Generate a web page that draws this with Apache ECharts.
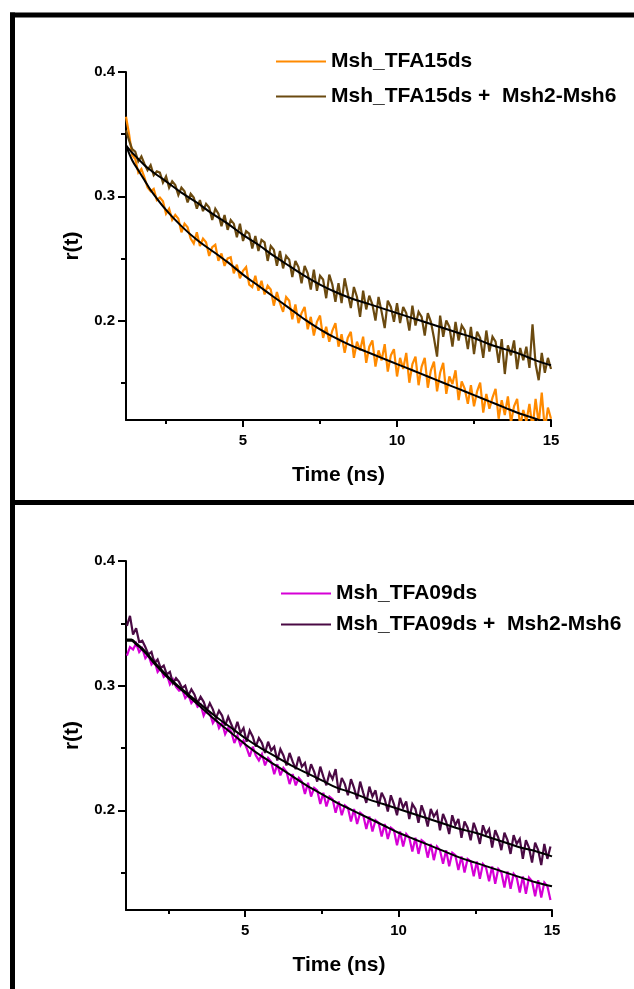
<!DOCTYPE html>
<html>
<head>
<meta charset="utf-8">
<script src="https://cdn.jsdelivr.net/npm/echarts@6/dist/echarts.min.js"></script>
<style>
html,body{margin:0;padding:0;background:#fff;}
#chart{width:634px;height:989px;}
</style>
</head>
<body>
<div id="chart"></div>
<script>
// ---------- DATA ----------
// Top panel: time axis starts 1.2 ns, 0.1 ns sampling
const TOP_T0 = 1.2;
const TOP_DT = 0.1;
const TOP_NAMES = ['Msh_TFA15ds', 'Msh_TFA15ds +  Msh2-Msh6'];
const TFA15 = [
0.364,0.350,0.333,0.330,0.319,0.322,0.315,0.307,0.304,0.306,
0.297,0.299,0.296,0.286,0.290,0.281,0.285,0.282,0.271,0.278,
0.275,0.266,0.262,0.271,0.260,0.266,0.263,0.252,0.259,0.261,
0.248,0.254,0.244,0.250,0.251,0.238,0.245,0.234,0.240,0.243,
0.229,0.227,0.236,0.224,0.232,0.221,0.228,0.225,0.212,0.223,
0.214,0.207,0.219,0.216,0.201,0.213,0.198,0.206,0.211,0.193,
0.203,0.188,0.199,0.204,0.186,0.195,0.183,0.192,0.198,0.179,
0.189,0.174,0.186,0.191,0.170,0.183,0.176,0.187,0.166,0.179,
0.184,0.163,0.176,0.168,0.181,0.159,0.172,0.177,0.155,0.170,
0.161,0.174,0.150,0.165,0.171,0.148,0.163,0.170,0.146,0.160,
0.167,0.143,0.158,0.166,0.141,0.155,0.149,0.160,0.136,0.151,
0.145,0.133,0.148,0.131,0.143,0.150,0.126,0.141,0.129,0.138,
0.145,0.121,0.136,0.124,0.139,0.118,0.131,0.137,0.115,0.128,
0.119,0.133,0.113,0.137,0.117,0.142,0.112,0.130,0.121];
const TFA15_MSH = [
0.353,0.345,0.338,0.336,0.328,0.332,0.326,0.321,0.325,0.317,
0.320,0.319,0.311,0.316,0.307,0.312,0.309,0.301,0.307,0.304,
0.295,0.302,0.299,0.290,0.297,0.288,0.294,0.291,0.281,0.290,
0.286,0.276,0.285,0.273,0.281,0.278,0.267,0.278,0.264,0.272,
0.270,0.258,0.268,0.256,0.265,0.263,0.248,0.260,0.257,0.244,
0.256,0.242,0.252,0.249,0.235,0.248,0.243,0.230,0.244,0.238,
0.225,0.241,0.224,0.236,0.233,0.218,0.237,0.229,0.215,0.230,
0.214,0.234,0.222,0.210,0.227,0.219,0.203,0.224,0.209,0.220,
0.213,0.200,0.219,0.207,0.194,0.216,0.211,0.199,0.214,0.198,
0.211,0.206,0.192,0.212,0.196,0.207,0.203,0.188,0.206,0.199,
0.186,0.171,0.204,0.187,0.200,0.195,0.179,0.199,0.184,0.196,
0.192,0.177,0.195,0.173,0.191,0.186,0.170,0.192,0.175,0.187,
0.183,0.166,0.185,0.157,0.180,0.172,0.184,0.161,0.178,0.168,
0.179,0.162,0.197,0.165,0.152,0.174,0.158,0.170,0.161];
const TOP_FIT_T = [1.2,1.4,1.6,1.8,2.0,2.5,3,3.5,4,4.5,5,5.5,6,6.5,7,7.5,8,8.5,9,9.5,10,10.5,11,11.5,12,12.5,13,13.5,14,14.5,15];
const TFA15_FIT = [0.341,0.329,0.321,0.313,0.305,0.289,0.276,0.265,0.256,0.247,0.237,0.228,0.219,0.210,0.201,0.193,0.186,0.180,0.175,0.170,0.165,0.160,0.155,0.150,0.145,0.140,0.135,0.130,0.125,0.121,0.116];
const TFA15_MSH_FIT = [0.341,0.335,0.330,0.325,0.321,0.312,0.303,0.295,0.286,0.278,0.269,0.261,0.252,0.244,0.236,0.229,0.223,0.218,0.214,0.210,0.206,0.202,0.198,0.194,0.190,0.186,0.181,0.177,0.173,0.168,0.164];

// Bottom panel: time axis starts 1.15 ns, 0.1 ns sampling
const BOT_T0 = 1.15;
const BOT_DT = 0.1;
const BOT_NAMES = ['Msh_TFA09ds', 'Msh_TFA09ds +  Msh2-Msh6'];
const TFA09 = [
0.324,0.331,0.329,0.334,0.327,0.330,0.322,0.325,0.317,0.320,
0.311,0.314,0.307,0.309,0.301,0.305,0.299,0.296,0.297,0.290,
0.293,0.286,0.289,0.283,0.285,0.276,0.281,0.278,0.270,0.274,
0.266,0.270,0.261,0.266,0.263,0.254,0.260,0.252,0.256,0.250,
0.243,0.251,0.244,0.240,0.245,0.236,0.242,0.239,0.229,0.237,
0.228,0.234,0.231,0.221,0.229,0.220,0.226,0.223,0.213,0.222,
0.211,0.218,0.216,0.205,0.214,0.203,0.211,0.209,0.198,0.207,
0.196,0.204,0.202,0.191,0.201,0.189,0.198,0.196,0.185,0.195,
0.183,0.192,0.190,0.179,0.189,0.177,0.186,0.184,0.172,0.183,
0.171,0.181,0.178,0.167,0.178,0.165,0.176,0.174,0.162,0.173,
0.160,0.171,0.168,0.157,0.168,0.155,0.166,0.164,0.152,0.163,
0.150,0.161,0.159,0.147,0.159,0.145,0.157,0.154,0.143,0.155,
0.141,0.153,0.150,0.138,0.151,0.137,0.149,0.146,0.134,0.147,
0.133,0.146,0.143,0.131,0.144,0.130,0.142,0.139,0.128];
const TFA09_MSH = [
0.348,0.356,0.341,0.346,0.335,0.336,0.331,0.325,0.327,0.318,
0.321,0.314,0.316,0.309,0.311,0.302,0.306,0.303,0.298,0.300,
0.292,0.297,0.293,0.286,0.291,0.287,0.280,0.286,0.281,0.274,
0.280,0.276,0.268,0.275,0.269,0.263,0.271,0.262,0.266,0.255,
0.264,0.259,0.251,0.258,0.254,0.246,0.255,0.248,0.251,0.240,
0.249,0.244,0.236,0.246,0.239,0.233,0.243,0.235,0.238,0.227,
0.237,0.231,0.223,0.235,0.227,0.220,0.230,0.225,0.233,0.214,
0.226,0.221,0.212,0.225,0.218,0.209,0.223,0.214,0.206,0.219,
0.211,0.216,0.203,0.214,0.209,0.199,0.212,0.205,0.196,0.210,
0.202,0.207,0.193,0.205,0.201,0.190,0.204,0.197,0.187,0.201,
0.195,0.199,0.184,0.197,0.191,0.181,0.196,0.188,0.193,0.178,
0.191,0.186,0.176,0.190,0.183,0.173,0.188,0.181,0.185,0.170,
0.184,0.178,0.168,0.182,0.176,0.165,0.180,0.173,0.177,0.161,
0.176,0.170,0.158,0.174,0.168,0.156,0.173,0.161,0.171];
const BOT_FIT_T = [1.15,1.3,1.45,1.6,1.8,2.0,2.5,3,3.5,4,4.5,5,5.5,6,6.5,7,7.5,8,8.5,9,9.5,10,10.5,11,11.5,12,12.5,13,13.5,14,14.5,15];
const TFA09_FIT = [0.336,0.336,0.333,0.330,0.325,0.319,0.306,0.295,0.284,0.273,0.263,0.253,0.244,0.236,0.228,0.220,0.213,0.206,0.200,0.194,0.188,0.182,0.177,0.172,0.167,0.162,0.158,0.154,0.150,0.146,0.142,0.139];
const TFA09_MSH_FIT = [0.337,0.337,0.334,0.331,0.326,0.320,0.307,0.296,0.286,0.276,0.267,0.258,0.250,0.243,0.236,0.230,0.224,0.218,0.214,0.209,0.205,0.201,0.197,0.193,0.189,0.185,0.182,0.178,0.174,0.170,0.167,0.163];

const Y_TICKS_MAJOR = [0.2, 0.3, 0.4];
const Y_TICKS_MINOR = [0.15, 0.25, 0.35];
const X_TICKS_MAJOR = [5, 10, 15];
const X_TICKS_MINOR = [2.5, 7.5, 12.5];

// ---------- STYLE ----------
const FONT = '"Liberation Sans", Arial, Helvetica, sans-serif';
const C_ORANGE = '#ff8a00';
const C_BROWN = '#6b4a10';
const C_MAGENTA = '#d600d6';
const C_PURPLE = '#4a0a44';

function sampled(t0, dt, vals) { return vals.map((v, i) => [+(t0 + i * dt).toFixed(3), v]); }
function paired(ts, vals) { return ts.map((t, i) => [t, vals[i]]); }

const labelStyle = { color: '#000', fontFamily: FONT, fontWeight: 'bold', fontSize: 15 };
const nameStyle = { color: '#000', fontFamily: FONT, fontWeight: 'bold', fontSize: 21 };

function xAxes(grid, min) {
  return [
    { gridIndex: grid, type: 'value', min: min, max: 15, position: 'bottom',
      axisLine: { lineStyle: { color: '#000', width: 2 } },
      axisTick: { customValues: X_TICKS_MAJOR, length: 7, lineStyle: { color: '#000', width: 2 } },
      axisLabel: Object.assign({ customValues: X_TICKS_MAJOR, margin: 13 }, labelStyle),
      splitLine: { show: false },
      name: 'Time (ns)', nameLocation: 'middle', nameGap: 45, nameTextStyle: nameStyle },
    { gridIndex: grid, type: 'value', min: min, max: 15, position: 'bottom',
      axisLine: { show: false },
      axisTick: { customValues: X_TICKS_MINOR, length: 4, lineStyle: { color: '#000', width: 2 } },
      axisLabel: { show: false }, splitLine: { show: false } }
  ];
}
function yAxes(grid) {
  return [
    { gridIndex: grid, type: 'value', min: 0.12, max: 0.4, position: 'left',
      axisLine: { show: true, lineStyle: { color: '#000', width: 2 } },
      axisTick: { show: true, customValues: Y_TICKS_MAJOR, length: 8, lineStyle: { color: '#000', width: 2 } },
      axisLabel: Object.assign({ customValues: Y_TICKS_MAJOR, margin: 11 }, labelStyle),
      splitLine: { show: false },
      name: 'r(t)', nameLocation: 'middle', nameGap: 43, nameTextStyle: nameStyle },
    { gridIndex: grid, type: 'value', min: 0.12, max: 0.4, position: 'left',
      axisLine: { show: false },
      axisTick: { show: true, customValues: Y_TICKS_MINOR, length: 5, lineStyle: { color: '#000', width: 2 } },
      axisLabel: { show: false }, splitLine: { show: false } }
  ];
}

function dataSeries(name, color, data, xi, yi) {
  return { type: 'line', name: name, xAxisIndex: xi, yAxisIndex: yi, data: data,
    symbol: 'none', showSymbol: false, clip: true, animation: false,
    lineStyle: { color: color, width: 2.2, join: 'miter', miterLimit: 3 }, itemStyle: { color: color } };
}
function fitSeries(data, xi, yi) {
  return { type: 'line', xAxisIndex: xi, yAxisIndex: yi, data: data, z: 5,
    symbol: 'none', showSymbol: false, smooth: 0.35, clip: true, animation: false,
    lineStyle: { color: '#000', width: 2 }, itemStyle: { color: '#000' } };
}

const legendBase = { orient: 'vertical', icon: 'rect', itemWidth: 50, itemHeight: 2,
  textStyle: { color: '#000', fontFamily: FONT, fontWeight: 'bold', fontSize: 21 }, selectedMode: false };

const option = {
  animation: false,
  backgroundColor: '#fff',
  grid: [
    { left: 126, top: 72, width: 425, height: 348 },
    { left: 126, top: 561, width: 426, height: 349 }
  ],
  legend: [
    Object.assign({ data: TOP_NAMES, left: 271, top: 46, itemGap: 14 }, legendBase),
    Object.assign({ data: BOT_NAMES, left: 276, top: 578, itemGap: 10 }, legendBase)
  ],
  xAxis: xAxes(0, 1.2).concat(xAxes(1, 1.12)),
  yAxis: yAxes(0).concat(yAxes(1)),
  series: [
    dataSeries(TOP_NAMES[0], C_ORANGE, sampled(TOP_T0, TOP_DT, TFA15), 0, 0),
    dataSeries(TOP_NAMES[1], C_BROWN, sampled(TOP_T0, TOP_DT, TFA15_MSH), 0, 0),
    fitSeries(paired(TOP_FIT_T, TFA15_FIT), 0, 0),
    fitSeries(paired(TOP_FIT_T, TFA15_MSH_FIT), 0, 0),
    dataSeries(BOT_NAMES[0], C_MAGENTA, sampled(BOT_T0, BOT_DT, TFA09), 2, 2),
    dataSeries(BOT_NAMES[1], C_PURPLE, sampled(BOT_T0, BOT_DT, TFA09_MSH), 2, 2),
    fitSeries(paired(BOT_FIT_T, TFA09_FIT), 2, 2),
    fitSeries(paired(BOT_FIT_T, TFA09_MSH_FIT), 2, 2)
  ],
  graphic: [
    { type: 'line', shape: { x1: 10, y1: 15, x2: 634, y2: 15 }, style: { stroke: '#000', lineWidth: 5 } },
    { type: 'line', shape: { x1: 12.5, y1: 12.5, x2: 12.5, y2: 989 }, style: { stroke: '#000', lineWidth: 5 } },
    { type: 'line', shape: { x1: 10, y1: 502.5, x2: 634, y2: 502.5 }, style: { stroke: '#000', lineWidth: 5 } }
  ]
};

const chart = echarts.init(document.getElementById('chart'), null, { renderer: 'canvas' });
chart.setOption(option);
</script>
</body>
</html>
